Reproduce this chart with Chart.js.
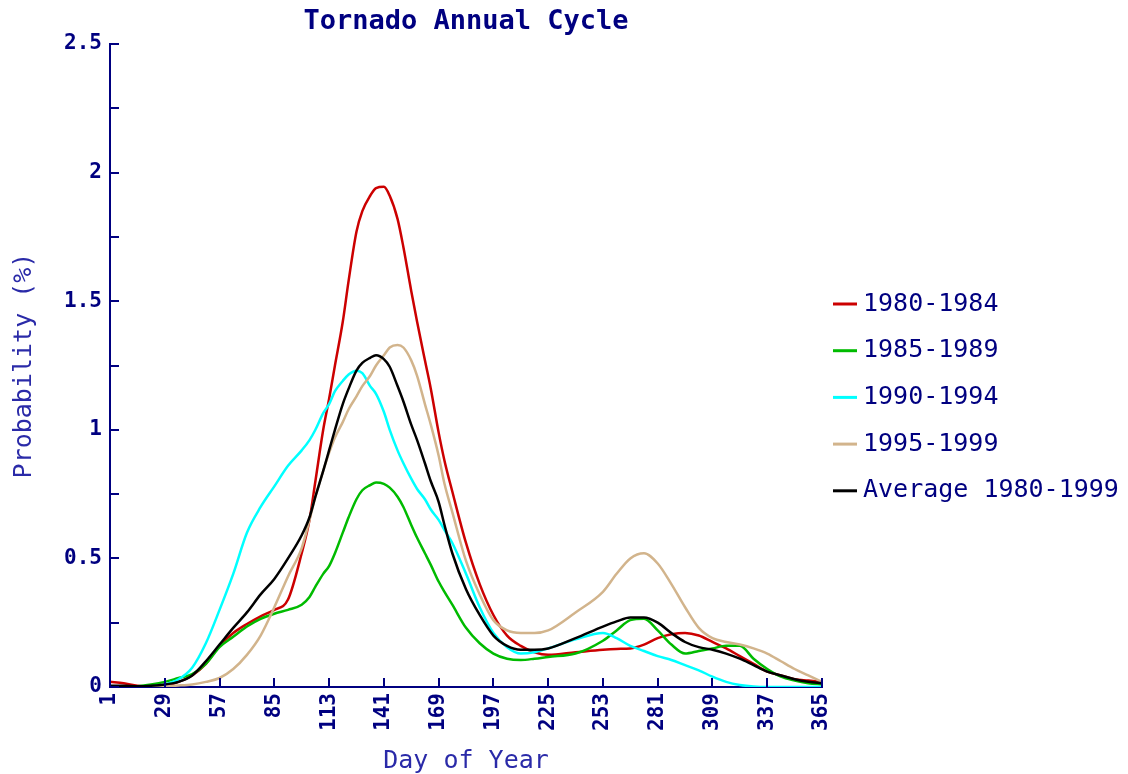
<!DOCTYPE html>
<html>
<head>
<meta charset="utf-8">
<title>Tornado Annual Cycle</title>
<script src="https://cdn.jsdelivr.net/npm/chart.js@4"></script>
<style>
  html, body { margin: 0; padding: 0; background: #fff; }
  #wrap { width: 1128px; height: 774px; }
</style>
</head>
<body>
<div id="wrap"><canvas id="chart" width="1128" height="774"></canvas></div>
<script>
// day of year where the curves are sampled
const days = [1, 8, 15, 22, 29, 36, 43, 50, 57, 64,
  71, 78, 85, 92, 99, 103, 106, 110, 113, 116,
  120, 123, 127, 130, 134, 137, 141, 144, 148, 151,
  155, 158, 162, 165, 169, 172, 176, 183, 190, 197,
  204, 211, 218, 225, 239, 253, 260, 267, 274, 281,
  288, 295, 302, 309, 316, 323, 330, 337, 344, 351,
  358, 365];

const p1980 = [0.02, 0.015, 0.005, 0.003, 0.005, 0.02, 0.045, 0.09, 0.16, 0.21,
  0.245, 0.275, 0.30, 0.34, 0.52, 0.65, 0.80, 1.00, 1.12, 1.25,
  1.42, 1.58, 1.77, 1.85, 1.91, 1.94, 1.945, 1.91, 1.82, 1.71,
  1.54, 1.42, 1.27, 1.16, 0.99, 0.88, 0.76, 0.56, 0.40, 0.28,
  0.20, 0.16, 0.135, 0.125, 0.135, 0.145, 0.148, 0.15, 0.165, 0.19,
  0.205, 0.21, 0.20, 0.175, 0.15, 0.12, 0.09, 0.06, 0.045, 0.03,
  0.025, 0.02];
const p1985 = [0, 0, 0.003, 0.01, 0.02, 0.035, 0.05, 0.09, 0.155, 0.195,
  0.235, 0.265, 0.285, 0.30, 0.32, 0.35, 0.39, 0.44, 0.47, 0.52,
  0.60, 0.66, 0.73, 0.765, 0.785, 0.795, 0.79, 0.775, 0.74, 0.70,
  0.63, 0.58, 0.52, 0.475, 0.41, 0.37, 0.32, 0.23, 0.17, 0.13,
  0.11, 0.105, 0.11, 0.117, 0.13, 0.18, 0.22, 0.26, 0.265, 0.22,
  0.165, 0.13, 0.14, 0.15, 0.16, 0.16, 0.11, 0.07, 0.04, 0.025,
  0.015, 0.01];
const p1990 = [0, 0, 0, 0.002, 0.01, 0.03, 0.075, 0.17, 0.30, 0.44,
  0.60, 0.70, 0.78, 0.86, 0.92, 0.96, 1.00, 1.065, 1.10, 1.15,
  1.19, 1.215, 1.23, 1.22, 1.17, 1.14, 1.07, 1.00, 0.92, 0.87,
  0.81, 0.77, 0.73, 0.69, 0.65, 0.61, 0.56, 0.44, 0.31, 0.21,
  0.155, 0.13, 0.135, 0.15, 0.185, 0.21, 0.19, 0.16, 0.14, 0.12,
  0.105, 0.085, 0.065, 0.04, 0.02, 0.008, 0.002, 0, 0, 0,
  0, 0];
const p1995 = [0, 0, 0, 0.002, 0.004, 0.006, 0.01, 0.02, 0.035, 0.07,
  0.125, 0.20, 0.31, 0.43, 0.54, 0.65, 0.74, 0.84, 0.91, 0.97,
  1.03, 1.08, 1.13, 1.17, 1.21, 1.25, 1.29, 1.32, 1.33, 1.32,
  1.27, 1.21, 1.10, 1.02, 0.90, 0.79, 0.68, 0.49, 0.36, 0.26,
  0.22, 0.21, 0.21, 0.22, 0.29, 0.37, 0.44, 0.50, 0.52, 0.48,
  0.40, 0.31, 0.23, 0.19, 0.175, 0.165, 0.15, 0.13, 0.10, 0.07,
  0.045, 0.02];
const pAvg = [0.005, 0.005, 0.003, 0.005, 0.01, 0.02, 0.045, 0.10, 0.165, 0.23,
  0.29, 0.36, 0.42, 0.50, 0.59, 0.66, 0.74, 0.84, 0.92, 1.00,
  1.10, 1.16, 1.23, 1.26, 1.28, 1.29, 1.275, 1.245, 1.17, 1.11,
  1.02, 0.96, 0.87, 0.80, 0.72, 0.63, 0.52, 0.38, 0.28, 0.20,
  0.16, 0.145, 0.145, 0.15, 0.19, 0.235, 0.255, 0.27, 0.27, 0.25,
  0.21, 0.175, 0.155, 0.145, 0.13, 0.11, 0.085, 0.06, 0.045, 0.03,
  0.02, 0.015];

const seriesNames = ['1980-1984', '1985-1989', '1990-1994', '1995-1999', 'Average 1980-1999'];
const seriesColors = ['#cc0000', '#00bb00', '#00ffff', '#d2b48c', '#000000'];
const xTicks = [1, 29, 57, 85, 113, 141, 169, 197, 225, 253, 281, 309, 337, 365];

const NAVY = '#000080';
const MONO = '"DejaVu Sans Mono", "Liberation Mono", monospace';

function toPoints(vals) {
  return days.map((d, i) => ({ x: d, y: vals[i] }));
}

const allSeries = [p1980, p1985, p1990, p1995, pAvg];

// ticks pointing inward, title and legend
const decor = {
  id: 'decor',
  afterDraw(chart) {
    const { ctx, chartArea, scales: { x, y } } = chart;
    ctx.save();
    ctx.strokeStyle = NAVY;
    ctx.lineWidth = 2;
    y.ticks.forEach(t => {
      const py = Math.round(y.getPixelForValue(t.value));
      ctx.beginPath();
      ctx.moveTo(chartArea.left, py);
      ctx.lineTo(chartArea.left + 9, py);
      ctx.stroke();
    });
    x.ticks.forEach(t => {
      const px = Math.round(x.getPixelForValue(t.value));
      ctx.beginPath();
      ctx.moveTo(px, chartArea.bottom);
      ctx.lineTo(px, chartArea.bottom - 9);
      ctx.stroke();
    });

    ctx.fillStyle = NAVY;
    ctx.font = 'bold 27px ' + MONO;
    ctx.textAlign = 'center';
    ctx.textBaseline = 'middle';
    ctx.fillText('Tornado Annual Cycle', (chartArea.left + chartArea.right) / 2, 22);

    ctx.font = '25px ' + MONO;
    ctx.textAlign = 'left';
    chart.data.datasets.forEach((ds, i) => {
      const ly = 304 + i * 46.7;
      ctx.strokeStyle = ds.borderColor;
      ctx.lineWidth = 3;
      ctx.beginPath();
      ctx.moveTo(833, ly);
      ctx.lineTo(857, ly);
      ctx.stroke();
      ctx.fillStyle = NAVY;
      ctx.fillText(ds.label, 863, ly);
    });
    ctx.restore();
  }
};

new Chart(document.getElementById('chart'), {
  type: 'line',
  data: {
    datasets: allSeries.map((vals, i) => ({
      label: seriesNames[i],
      data: toPoints(vals),
      borderColor: seriesColors[i],
      backgroundColor: seriesColors[i],
      borderWidth: 2.5,
      pointRadius: 0,
      fill: false,
      cubicInterpolationMode: 'monotone',
      order: i === 4 ? 0 : 5 - i
    }))
  },
  options: {
    responsive: false,
    animation: false,
    events: [],
    layout: { padding: { top: 44, right: 306, bottom: 0, left: 0 } },
    plugins: {
      legend: { display: false },
      title: { display: false },
      tooltip: { enabled: false }
    },
    scales: {
      x: {
        type: 'linear',
        min: 1,
        max: 365,
        afterBuildTicks: s => { s.ticks = xTicks.map(v => ({ value: v })); },
        afterFit: s => { s.height = 87; },
        ticks: {
          autoSkip: false,
          minRotation: 90,
          maxRotation: 90,
          padding: 6,
          color: NAVY,
          font: { family: MONO, size: 21, weight: 'bold' }
        },
        grid: { drawOnChartArea: false, drawTicks: false },
        border: { display: true, color: NAVY, width: 2 },
        title: {
          display: true,
          text: 'Day of Year',
          color: '#2a2aa8',
          padding: 0,
          font: { family: MONO, size: 25, lineHeight: 1 }
        }
      },
      y: {
        min: 0,
        max: 2.5,
        afterFit: s => { s.width = 110; },
        ticks: {
          stepSize: 0.25,
          autoSkip: false,
          padding: 8,
          color: NAVY,
          font: { family: MONO, size: 21, weight: 'bold' },
          callback: v => (Math.abs(v * 2 - Math.round(v * 2)) < 1e-9 ? String(v) : '')
        },
        grid: { drawOnChartArea: false, drawTicks: false },
        border: { display: true, color: NAVY, width: 2 },
        title: {
          display: true,
          text: 'Probability (%)',
          color: '#2a2aa8',
          padding: { top: 12, bottom: 0 },
          font: { family: MONO, size: 25, lineHeight: 1 }
        }
      }
    }
  },
  plugins: [decor]
});
</script>
</body>
</html>
